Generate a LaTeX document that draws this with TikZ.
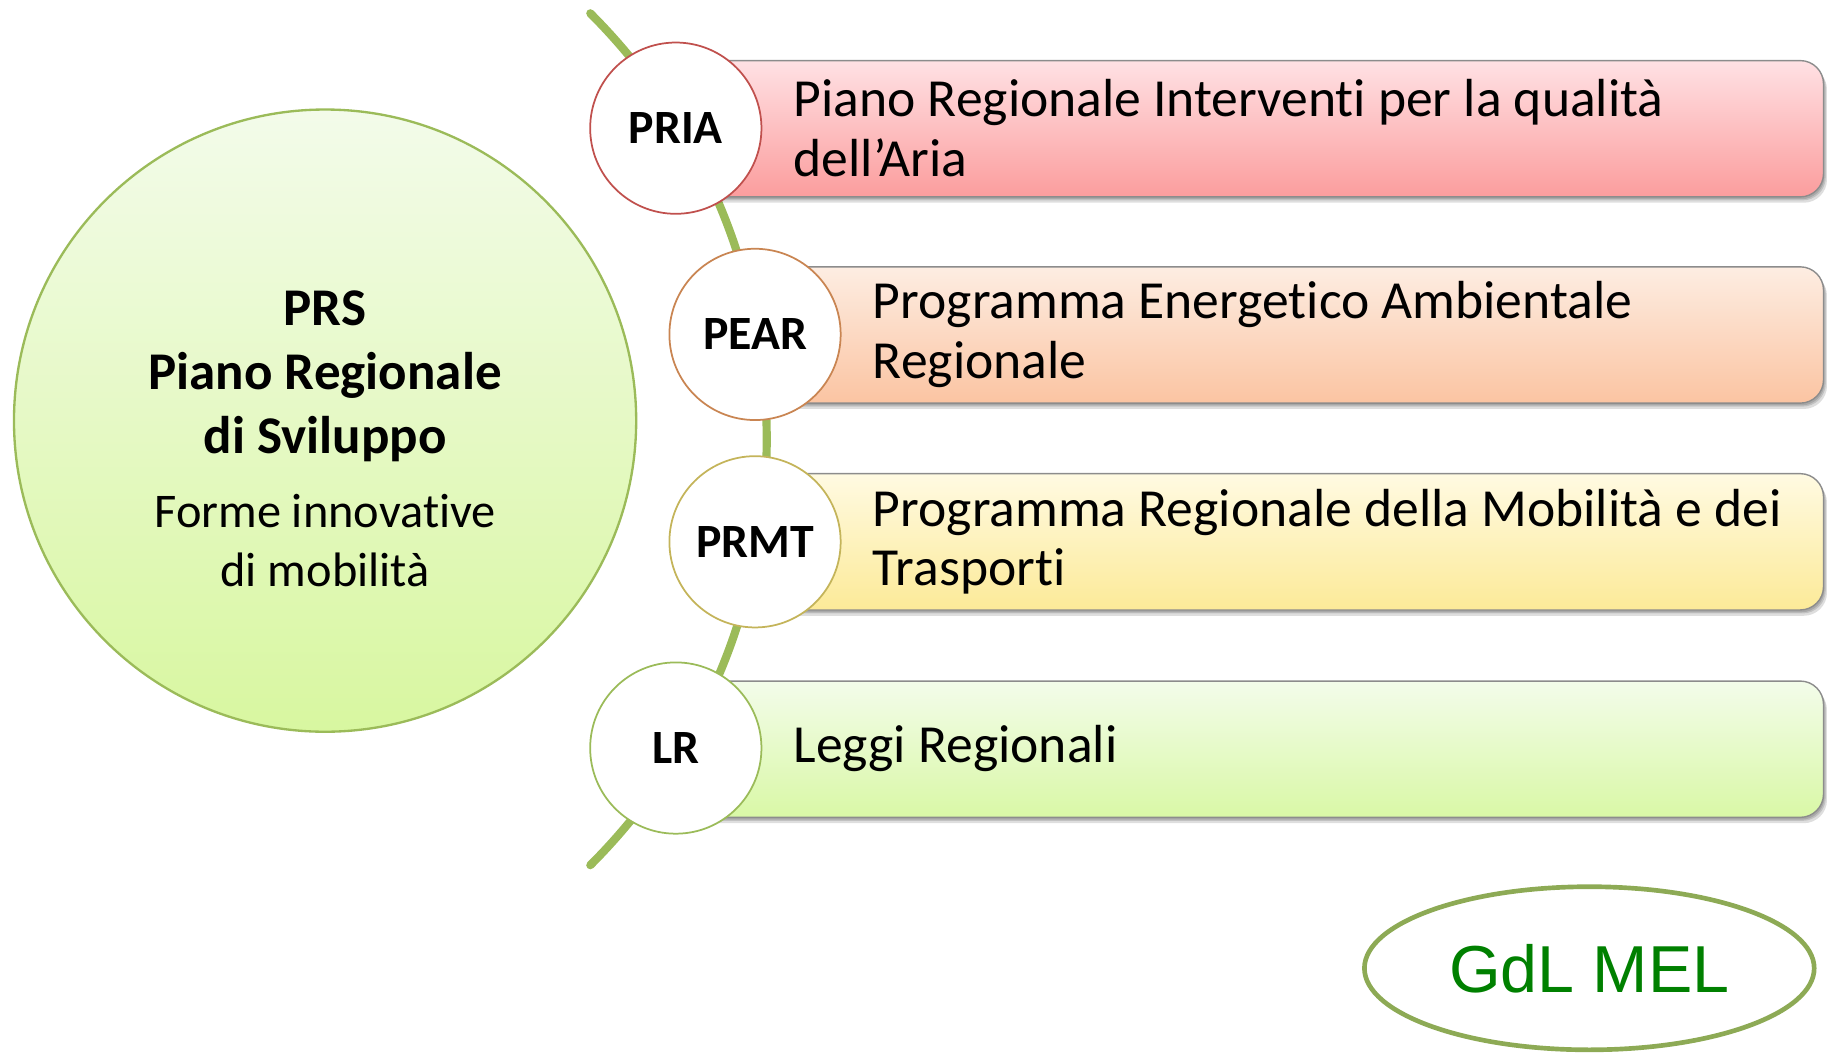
\documentclass[tikz,border=0pt]{standalone}
\usepackage{fontspec}
\setmainfont{Carlito}[Ligatures=NoCommon]
\newfontfamily\arialfont{Liberation Sans}
\usetikzlibrary{shapes.geometric}
\definecolor{spinegreen}{HTML}{9BBB59}
\definecolor{bigtop}{HTML}{F3FBEA}
\definecolor{bigbot}{HTML}{D8F7A0}
\definecolor{priatop}{HTML}{FFE1E4}
\definecolor{priabot}{HTML}{FB9D9D}
\definecolor{peartop}{HTML}{FDEDE2}
\definecolor{pearbot}{HTML}{FBC4A2}
\definecolor{prmttop}{HTML}{FFFAE2}
\definecolor{prmtbot}{HTML}{FCEA98}
\definecolor{lrtop}{HTML}{F3FCEA}
\definecolor{lrbot}{HTML}{D9F8A6}
\definecolor{prialine}{HTML}{C0504D}
\definecolor{pearline}{HTML}{C98552}
\definecolor{prmtline}{HTML}{C4B45A}
\definecolor{lrline}{HTML}{9BBB59}
\definecolor{gdlline}{HTML}{8DAA55}
\definecolor{gdltext}{HTML}{008000}
\begin{document}
\begin{tikzpicture}[x=1pt,y=-1pt,
  pill/.style={rounded corners=20pt, draw=gray!90, line width=1.2pt, minimum height=117pt, inner sep=0pt},
  pillshadow/.style={rounded corners=20pt, fill=black, fill opacity=0.13, draw=none, minimum height=117pt, inner sep=0pt},
  badge/.style={circle, fill=white, line width=1.5pt, minimum size=147pt, inner sep=0pt, font=\fontsize{41}{48}\selectfont\bfseries},
  pilltext/.style={anchor=west, inner sep=0pt, align=left, font=\fontsize{46}{51}\selectfont},
  spine/.style={draw=spinegreen, line width=7pt, line cap=round}
]
\useasboundingbox (0,0) rectangle (1568,904);

% main circle
\node[circle, draw=spinegreen, line width=2pt, top color=bigtop, bottom color=bigbot, minimum size=534pt, inner sep=0pt] (prs) at (279,361) {};
\node[inner sep=0pt, align=center, font=\fontsize{45.5}{55}\selectfont\bfseries] (prstitle) at (279,323) {PRS\\Piano Regionale\\di Sviluppo};
\node[inner sep=0pt, align=center, font=\fontsize{41.5}{50}\selectfont] (prssub) at (279,464) {Forme innovative\\di mobilità};

% spine arc
\coordinate (arcTop) at (506.6,11.4);
\draw[spine] (arcTop) arc[start angle=-45, end angle=45, radius=517];

% shadows
\foreach \dx/\dy in {1/2,2/3,3/5}{
  \node[pillshadow, minimum width=985pt] at (1072.5+\dx,110.5+\dy) {};
  \node[pillshadow, minimum width=917pt] at (1106.5+\dx,287.5+\dy) {};
  \node[pillshadow, minimum width=917pt] at (1106.5+\dx,465+\dy) {};
  \node[pillshadow, minimum width=985pt] at (1072.5+\dx,643+\dy) {};
}

% bars
\node[pill, minimum width=985pt, top color=priatop, bottom color=priabot] (priaBar) at (1072.5,110.5) {};
\node[pill, minimum width=917pt, top color=peartop, bottom color=pearbot] (pearBar) at (1106.5,287.5) {};
\node[pill, minimum width=917pt, top color=prmttop, bottom color=prmtbot] (prmtBar) at (1106.5,465) {};
\node[pill, minimum width=985pt, top color=lrtop, bottom color=lrbot] (lrBar) at (1072.5,643) {};

% bar texts
\node[pilltext] (priaText) at (681,110) {Piano Regionale Interventi per la qualità\\dell’Aria};
\node[pilltext] (pearText) at (749,287) {Programma Energetico Ambientale\\Regionale};
\node[pilltext] (prmtText) at (749,465) {Programma Regionale della Mobilità e dei\\Trasporti};
\node[pilltext] (lrText) at (681,642) {Leggi Regionali};

% badges
\node[badge, draw=prialine] (pria) at (580,110) {PRIA};
\node[badge, draw=pearline] (pear) at (648,287) {PEAR};
\node[badge, draw=prmtline] (prmt) at (648,465) {PRMT};
\node[badge, draw=lrline] (lr) at (580,642) {LR};

% GdL MEL
\node[ellipse, draw=gdlline, line width=4pt, minimum width=386pt, minimum height=140pt, inner sep=0pt, text=gdltext, font=\arialfont\fontsize{57}{60}\selectfont] (gdl) at (1364,831) {GdL MEL};
\end{tikzpicture}
\end{document}
